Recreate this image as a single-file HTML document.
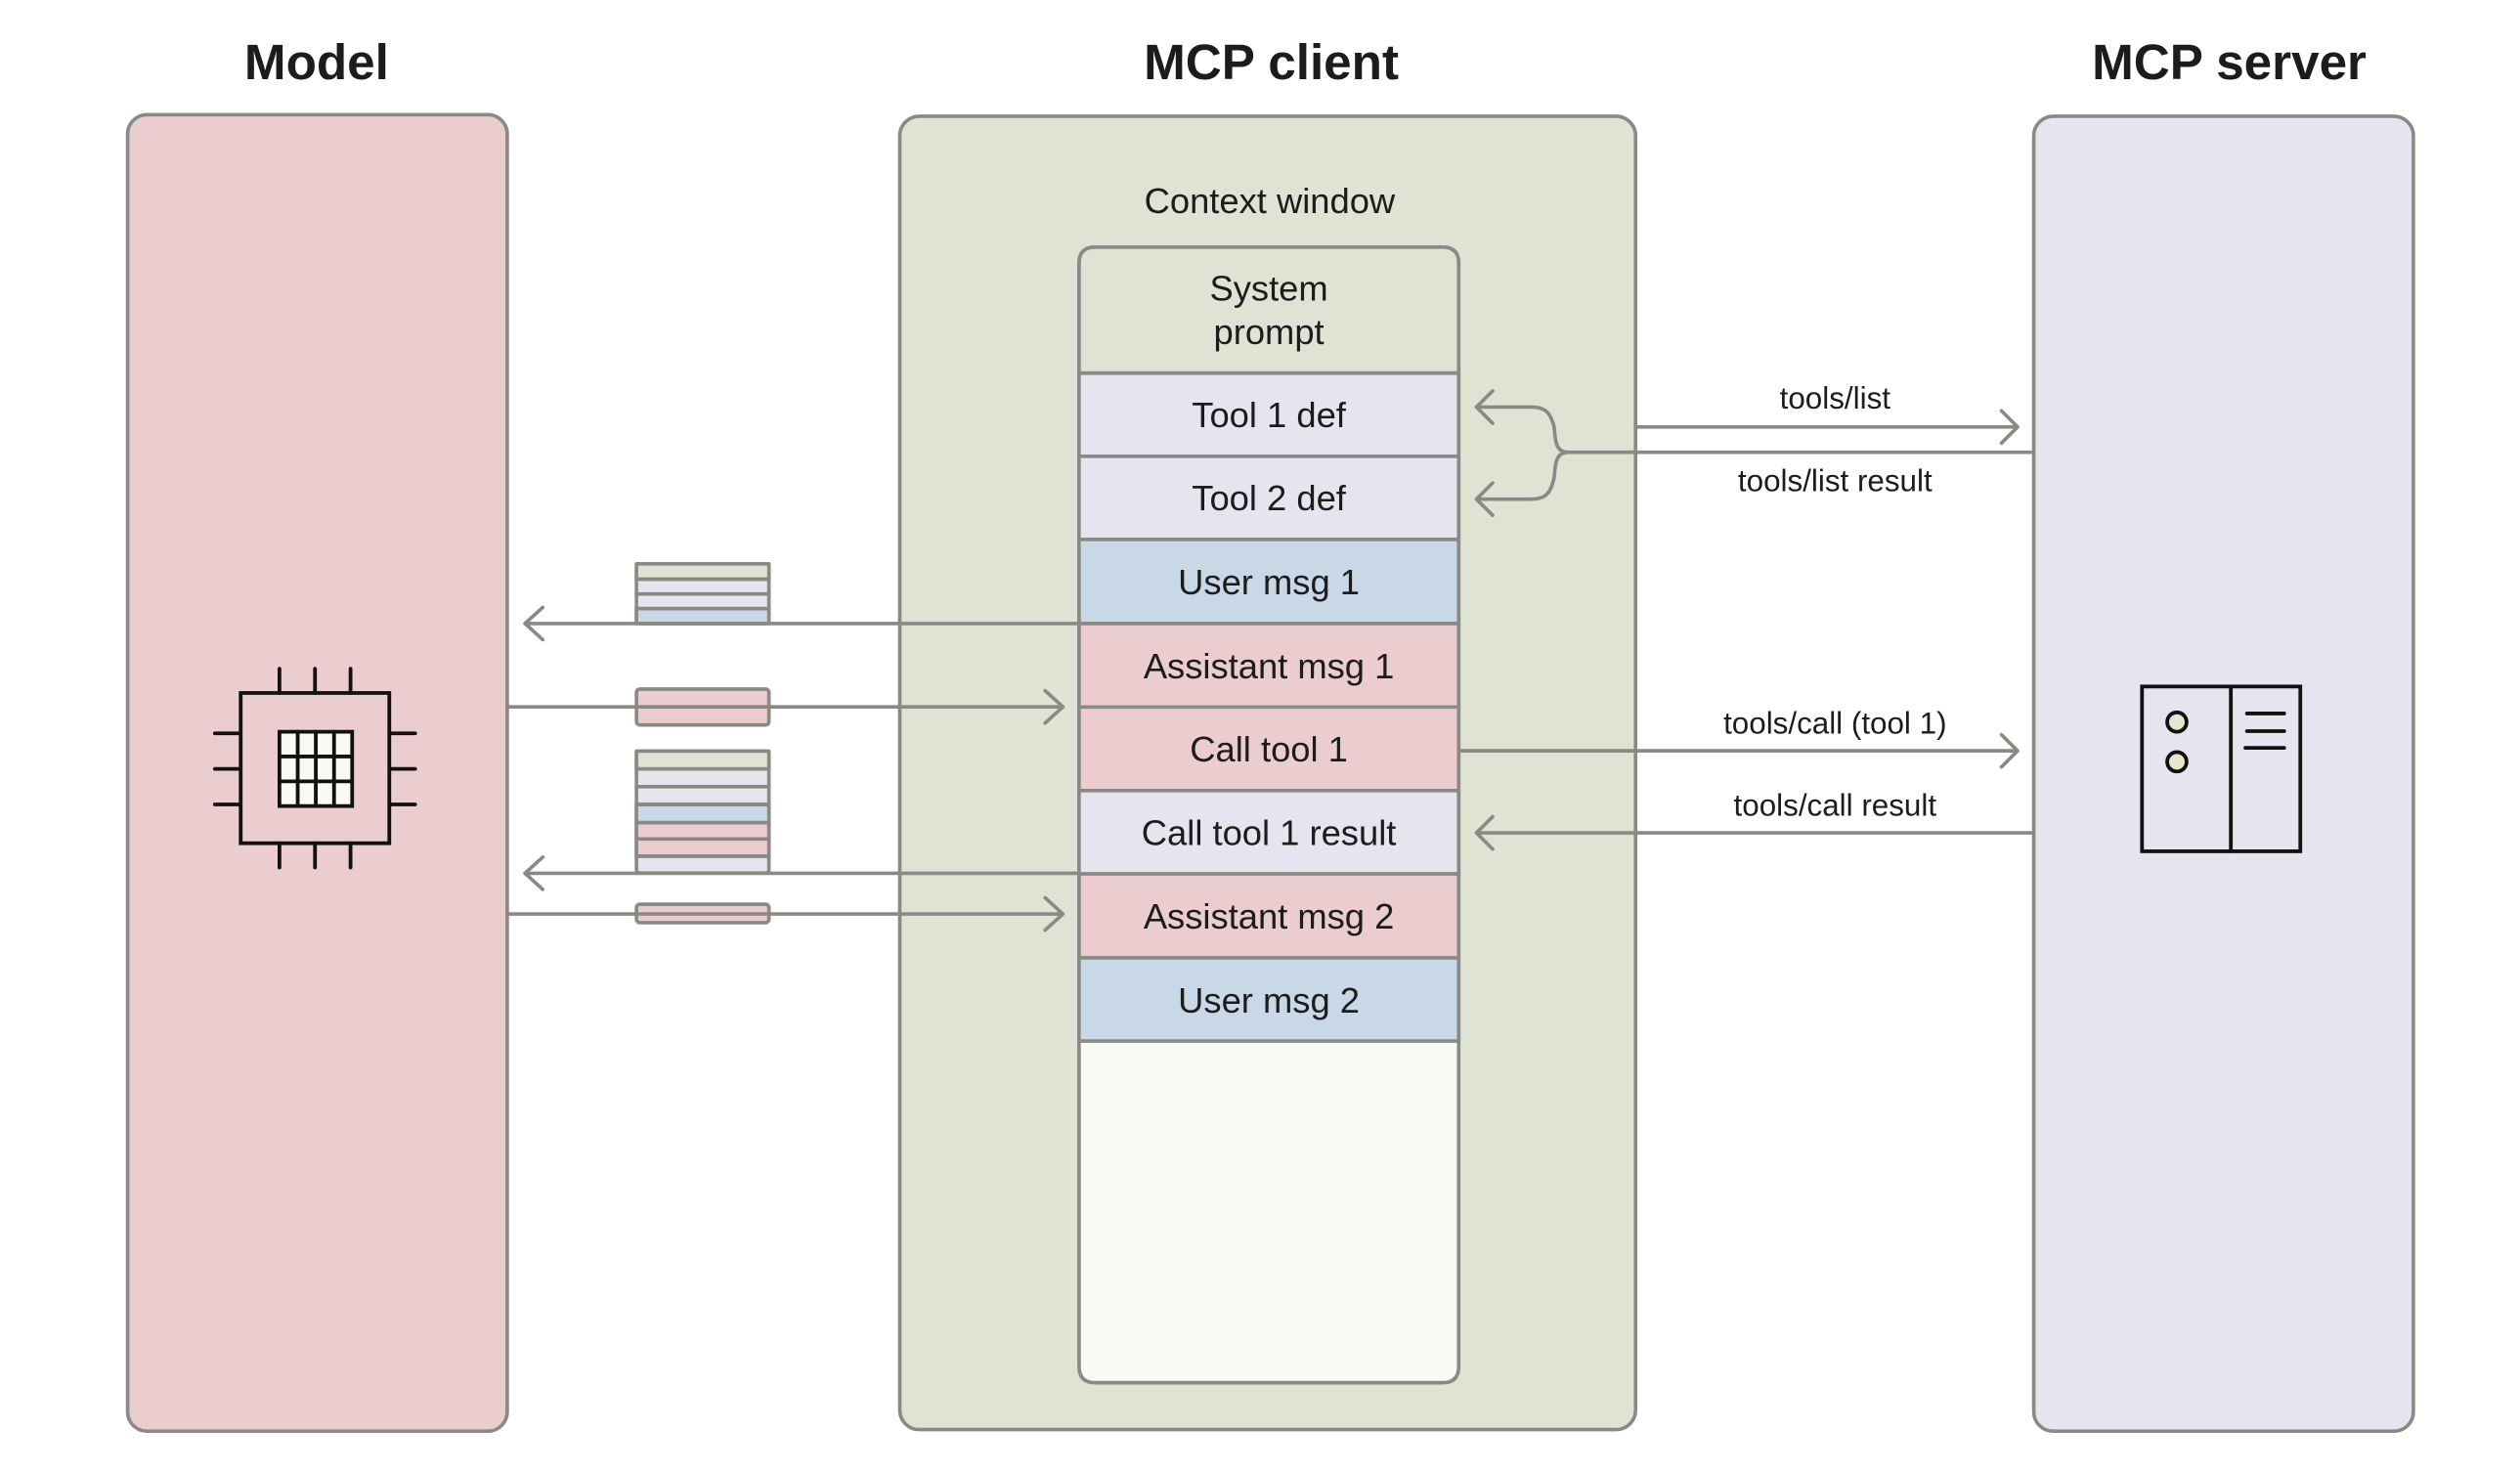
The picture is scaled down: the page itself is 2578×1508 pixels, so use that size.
<!DOCTYPE html>
<html><head><meta charset="utf-8"><style>
html,body{margin:0;padding:0;background:#fff;}
svg{display:block;}
text{font-family:"Liberation Sans",sans-serif;fill:#1c1c1c;}
</style></head><body>
<svg width="2578" height="1508" viewBox="0 0 1560 912.5" preserveAspectRatio="none" xmlns="http://www.w3.org/2000/svg">
<g stroke="#8a8a84" stroke-width="2.2" fill="none" stroke-linecap="round" stroke-linejoin="round">
<rect x="79" y="71" width="235" height="815" rx="12" fill="#ebcdd0"/>
<rect x="557" y="72" width="455.5" height="813" rx="12" fill="#dfe3d4"/>
<rect x="1259" y="72" width="235" height="814" rx="12" fill="#e4e5ee"/>
<path d="M668 846 V163 Q668 153 678 153 H893 Q903 153 903 163 V846 Q903 856 893 856 H678 Q668 856 668 846 Z" fill="#faf9f4"/>
<path d="M668 231 V163 Q668 153 678 153 H893 Q903 153 903 163 V231 Z" fill="#dfe3d4"/>
<rect x="668" y="231" width="235" height="51.5" fill="#e4e5ee"/>
<rect x="668" y="282.5" width="235" height="51.5" fill="#e4e5ee"/>
<rect x="668" y="334" width="235" height="52" fill="#c8d8e6"/>
<rect x="668" y="386" width="235" height="51.7" fill="#ebcdd0"/>
<rect x="668" y="437.7" width="235" height="51.7" fill="#ebcdd0"/>
<rect x="668" y="489.4" width="235" height="51.6" fill="#e4e5ee"/>
<rect x="668" y="541" width="235" height="52" fill="#ebcdd0"/>
<rect x="668" y="593" width="235" height="51.5" fill="#c8d8e6"/>
<rect x="394" y="349" width="82" height="37" rx="2" fill="#e4e5ee"/>
<rect x="394" y="349" width="82" height="9.6" fill="#dfe3d4"/>
<rect x="394" y="376.8" width="82" height="9.2" fill="#c8d8e6"/>
<path d="M394 358.6H476M394 367.7H476M394 376.8H476"/>
<rect x="394" y="426.6" width="82" height="22.2" rx="2" fill="#ebcdd0"/>
<rect x="394" y="465" width="82" height="75.5" rx="2" fill="#e4e5ee"/>
<rect x="394" y="465" width="82" height="11" fill="#dfe3d4"/>
<rect x="394" y="498" width="82" height="11.3" fill="#c8d8e6"/>
<rect x="394" y="509.3" width="82" height="20.7" fill="#ebcdd0"/>
<path d="M394 476H476M394 487H476M394 498H476M394 509.3H476M394 519.4H476M394 530H476"/>
<rect x="394" y="559.8" width="82" height="11.4" rx="2" fill="#ebcdd0"/>
<path d="M668 386 H325 M336 376 L325 386 L336 396"/>
<path d="M314 437.6 H658 M647 427.6 L658 437.6 L647 447.6"/>
<path d="M668 540.6 H325 M336 530.6 L325 540.6 L336 550.6"/>
<path d="M314 565.8 H658 M647 555.8 L658 565.8 L647 575.8"/>
<path d="M1012.5 264.3 H1249 M1239 254.3 L1249 264.3 L1239 274.3"/>
<path d="M1259 280 H971 C962 280 963 271 962 264 C960 256 957 252 948 252 H914 M924 242 L914 252 L924 262"/>
<path d="M971 280 C962 280 963 289 962 296 C960 305 957 309 948 309 H914 M924 299 L914 309 L924 319"/>
<path d="M903 464.8 H1249 M1239 454.8 L1249 464.8 L1239 474.8"/>
<path d="M1259 515.6 H914 M924 505.6 L914 515.6 L924 525.6"/>
</g>
<g stroke="#111" stroke-width="2.3" fill="none" stroke-linecap="round">
<rect x="149" y="429" width="92" height="93" fill="#ebcdd0"/>
<rect x="173" y="453" width="45" height="46" fill="#faf9f4"/>
<path d="M184.3 453V499M195.5 453V499M206.8 453V499M173 468.3H218M173 483.7H218"/>
<path d="M173 414V429M195 414V429M217 414V429M173 522V537M195 522V537M217 522V537M133 454H149M133 476H149M133 498H149M241 454H257M241 476H257M241 498H257"/>
</g>
<g stroke="#111" stroke-width="2.3" fill="none" stroke-linecap="round">
<rect x="1326" y="425" width="98" height="102" fill="#e4e5ee"/>
<path d="M1381 425V527"/>
<circle cx="1347.6" cy="447" r="6" fill="#e8e6cc"/>
<circle cx="1347.6" cy="471.6" r="6" fill="#e8e6cc"/>
<path d="M1391 441.7H1414M1391 452.6H1414M1390 463H1414"/>
</g>
<g font-size="31" font-weight="600" text-anchor="middle">
<text x="196" y="49">Model</text>
<text x="787" y="49">MCP client</text>
<text x="1380" y="49">MCP server</text>
</g>
<text x="786" y="132" font-size="22" text-anchor="middle">Context window</text>
<g font-size="22" text-anchor="middle">
<text x="785.5" y="186">System</text>
<text x="785.5" y="213">prompt</text>
<text x="785.5" y="264.5">Tool 1 def</text>
<text x="785.5" y="316">Tool 2 def</text>
<text x="785.5" y="368">User msg 1</text>
<text x="785.5" y="420">Assistant msg 1</text>
<text x="785.5" y="471.5">Call tool 1</text>
<text x="785.5" y="523">Call tool 1 result</text>
<text x="785.5" y="575">Assistant msg 2</text>
<text x="785.5" y="627">User msg 2</text>
</g>
<g font-size="19" text-anchor="middle">
<text x="1136" y="253">tools/list</text>
<text x="1136" y="304">tools/list result</text>
<text x="1136" y="454">tools/call (tool 1)</text>
<text x="1136" y="505">tools/call result</text>
</g>
</svg>
</body></html>
